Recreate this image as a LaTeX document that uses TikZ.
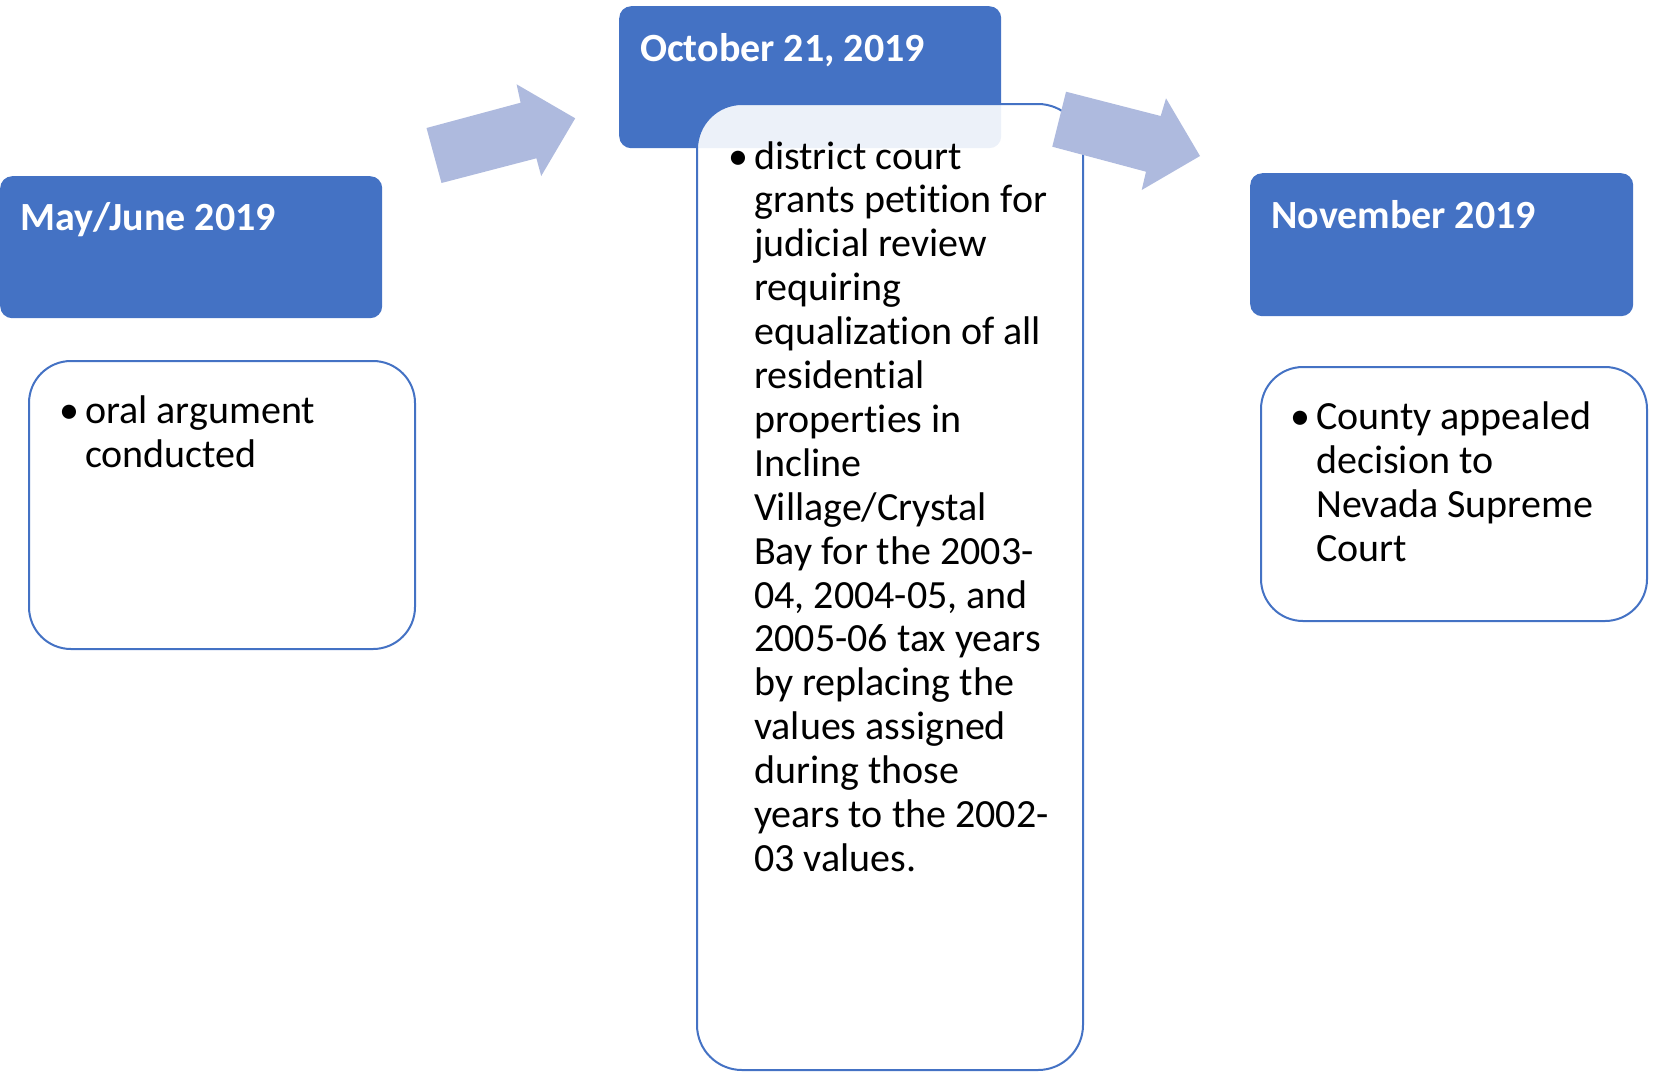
\documentclass[tikz,border=0pt]{standalone}
\usepackage{fontspec}
\setmainfont{Carlito}[Ligatures=NoCommon]
\definecolor{hdr}{HTML}{4472C4}
\definecolor{arr}{RGB}{174,186,222}
\newcommand\blist[2]{\vtop{\baselineskip=#1\lineskiplimit=-100pt\lineskip=0pt #2}}
\newcommand\fl[1]{\hbox{\llap{\textbullet\hskip 6pt}#1}}
\begin{document}
\begin{tikzpicture}[x=1pt,y=-1pt,
  header/.style={fill=hdr, rounded corners=12pt, anchor=north west, inner sep=0pt},
  content/.style={draw=hdr, line width=2pt, fill=white, fill opacity=0.9, draw opacity=1, rounded corners=42pt, anchor=north west, inner sep=0pt},
  htext/.style={anchor=base west, inner sep=0pt, text=white, font=\fontsize{40}{48}\selectfont\bfseries},
  btext/.style={anchor=base west, inner sep=0pt, font=\fontsize{40}{44}\selectfont},
  blockarrow/.style={fill=arr}]
\useasboundingbox (0,0) rectangle (1656,1077);
% headers
\node[header, minimum width=382pt, minimum height=142pt] (h1) at (0,176) {};
\node[header, minimum width=382pt, minimum height=142pt] (h2) at (619,6) {};
\node[header, minimum width=383pt, minimum height=143pt] (h3) at (1250,173) {};
% content boxes
\node[content, minimum width=386pt, minimum height=288pt] (c1) at (28,360) {};
\node[content, minimum width=386pt, minimum height=966pt, rounded corners=45pt] (c2) at (696,103) {};
\node[content, minimum width=386pt, minimum height=254pt] (c3) at (1260,366) {};
% header texts
\node[htext] (t1) at (20,230) {May/June 2019};
\node[htext] (t2) at (640,61) {October 21, 2019};
\node[htext] (t3) at (1271,228) {November 2019};
% body texts
\node[btext] (b1) at (85,423) {\blist{44pt}{\fl{oral argument}\hbox{conducted}}};
\node[btext] (b2) at (754,169) {\blist{43.9pt}{\fl{district court}
  \hbox{grants petition for}
  \hbox{judicial review}
  \hbox{requiring}
  \hbox{equalization of all}
  \hbox{residential}
  \hbox{properties in}
  \hbox{Incline}
  \hbox{Village/Crystal}
  \hbox{Bay for the 2003-}
  \hbox{04, 2004-05, and}
  \hbox{2005-06 tax years}
  \hbox{by replacing the}
  \hbox{values assigned}
  \hbox{during those}
  \hbox{years to the 2002-}
  \hbox{03 values.}}};
\node[btext] (b3) at (1316,429) {\blist{44pt}{\fl{County appealed}\hbox{decision to}\hbox{Nevada Supreme}\hbox{Court}}};
% block arrows
\fill[blockarrow] (426.5,128) -- (520.6,102.7) -- (516.6,84.3) -- (575.2,118.3) -- (541.2,176) -- (536.4,158.3) -- (441.5,183) -- cycle;
\fill[blockarrow] (1066,91.7) -- (1160.7,116) -- (1166,98.3) -- (1200,156) -- (1141.7,190) -- (1146,171.7) -- (1052.3,146.7) -- cycle;
\end{tikzpicture}
\end{document}
